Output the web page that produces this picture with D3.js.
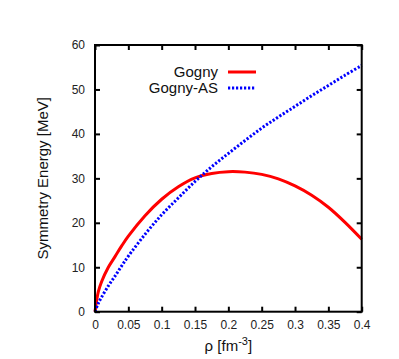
<!DOCTYPE html>
<html>
<head>
<meta charset="utf-8">
<script src="https://cdn.jsdelivr.net/npm/d3@7"></script>
<style>
  body { margin: 0; background: #fff; }
  svg { display: block; font-family: "Liberation Sans", Arial, sans-serif; }
</style>
</head>
<body>
<svg id="chart" width="399" height="359"></svg>
<script>
// density points (fm^-3)
var rho = [0, 0.005, 0.01, 0.02, 0.03, 0.04, 0.05, 0.075, 0.1, 0.125, 0.15, 0.175,
           0.2, 0.225, 0.25, 0.275, 0.3, 0.325, 0.35, 0.375, 0.4];
var gogny = [0, 4.5, 6.8, 10.0, 12.4, 14.8, 17.0, 21.6, 25.3, 28.1, 30.1, 31.1,
             31.5, 31.4, 30.9, 29.9, 28.3, 26.2, 23.5, 20.1, 16.3];
var gognyAS = [0, 1.9, 3.3, 5.8, 8.0, 10.3, 12.5, 17.4, 21.8, 25.6, 29.3, 32.6,
               35.6, 38.5, 41.3, 43.8, 46.2, 48.6, 50.9, 53.2, 55.4];

var xTicks = [0, 0.05, 0.1, 0.15, 0.2, 0.25, 0.3, 0.35, 0.4];
var xTickLabels = ["0", "0.05", "0.1", "0.15", "0.2", "0.25", "0.3", "0.35", "0.4"];
var yTicks = [0, 10, 20, 30, 40, 50, 60];
var seriesNames = ["Gogny", "Gogny-AS"];

var svg = d3.select("#chart");
// plot box (window.top is reserved, so use other names)
var pLeft = 95, pRight = 361.7, pTop = 45, pBottom = 311.7;

var x = d3.scaleLinear().domain([0, 0.4]).range([pLeft, pRight]);
var y = d3.scaleLinear().domain([0, 60]).range([pBottom, pTop]);

var tickLen = 5;

function styleTicks(g) {
    g.select(".domain").remove();
    g.selectAll("line").attr("stroke", "#000").attr("stroke-width", 2);
    g.selectAll("text").attr("font-size", 12).attr("fill", "#222")
        .attr("font-family", "Liberation Sans, Arial, sans-serif");
}

// mirrored inward ticks on all four sides
svg.append("g")
    .attr("transform", "translate(0," + pBottom + ")")
    .call(d3.axisBottom(x).tickValues(xTicks).tickSizeInner(-tickLen).tickSizeOuter(0)
        .tickPadding(9).tickFormat(function (d, i) { return xTickLabels[i]; }))
    .call(styleTicks);

svg.append("g")
    .attr("transform", "translate(0," + pTop + ")")
    .call(d3.axisTop(x).tickValues(xTicks).tickSizeInner(-tickLen).tickSizeOuter(0).tickFormat(""))
    .call(styleTicks);

svg.append("g")
    .attr("transform", "translate(" + pLeft + ",0)")
    .call(d3.axisLeft(y).tickValues(yTicks).tickSizeInner(-tickLen).tickSizeOuter(0).tickPadding(10))
    .call(styleTicks);

svg.append("g")
    .attr("transform", "translate(" + pRight + ",0)")
    .call(d3.axisRight(y).tickValues(yTicks).tickSizeInner(-tickLen).tickSizeOuter(0).tickFormat(""))
    .call(styleTicks);

// curves
var line = d3.line()
    .x(function (d) { return x(d[0]); })
    .y(function (d) { return y(d[1]); })
    .curve(d3.curveCatmullRom.alpha(0.5));

svg.append("path")
    .datum(d3.zip(rho, gogny))
    .attr("d", line)
    .attr("fill", "none")
    .attr("stroke", "#ff0000")
    .attr("stroke-width", 3);

svg.append("path")
    .datum(d3.zip(rho, gognyAS))
    .attr("d", line)
    .attr("fill", "none")
    .attr("stroke", "#0000ff")
    .attr("stroke-width", 3)
    .attr("stroke-dasharray", "2.2,1.8");

// frame
svg.append("rect")
    .attr("x", pLeft).attr("y", pTop)
    .attr("width", pRight - pLeft).attr("height", pBottom - pTop)
    .attr("fill", "none").attr("stroke", "#000").attr("stroke-width", 2);

// legend
var legend = svg.append("g");
var legendStyles = [
    { color: "#ff0000", dash: null },
    { color: "#0000ff", dash: "2.2,1.8" }
];
seriesNames.forEach(function (name, i) {
    var ly = 72 + i * 16;
    legend.append("text")
        .attr("x", 218).attr("y", ly + 5)
        .attr("text-anchor", "end")
        .attr("font-size", 15).attr("fill", "#111")
        .text(name);
    legend.append("line")
        .attr("x1", 228).attr("x2", 256)
        .attr("y1", ly).attr("y2", ly)
        .attr("stroke", legendStyles[i].color)
        .attr("stroke-width", 3)
        .attr("stroke-dasharray", legendStyles[i].dash);
});

// axis titles
svg.append("text")
    .attr("transform", "translate(48," + ((pTop + pBottom) / 2) + ") rotate(-90)")
    .attr("text-anchor", "middle")
    .attr("font-size", 15).attr("fill", "#111")
    .text("Symmetry Energy [MeV]");

var xt = svg.append("text")
    .attr("x", (pLeft + pRight) / 2).attr("y", 351)
    .attr("text-anchor", "middle")
    .attr("font-size", 15).attr("fill", "#111");
xt.append("tspan").text("ρ [fm");
xt.append("tspan").attr("dy", -6).attr("font-size", 11).text("-3");
xt.append("tspan").attr("dy", 6).text("]");
</script>
</body>
</html>
